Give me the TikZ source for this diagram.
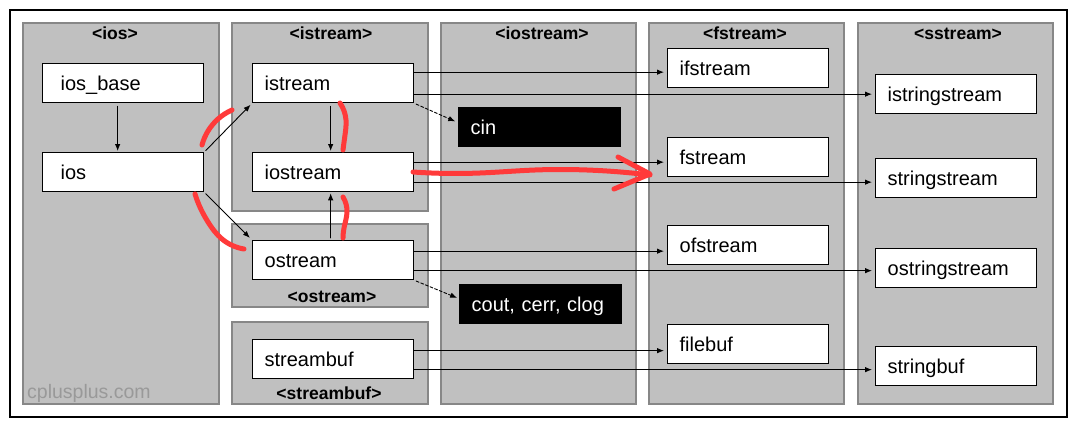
\documentclass[tikz,border=0pt]{standalone}
\usepackage{fontspec}
\setmainfont{Liberation Sans}
\usetikzlibrary{arrows.meta,hobby}

\definecolor{panelfill}{HTML}{C0C0C0}
\definecolor{paneledge}{HTML}{878787}
\definecolor{scribble}{HTML}{FF3A3A}
\definecolor{wmark}{HTML}{999999}

\begin{document}
\begin{tikzpicture}[x=1pt, y=-1pt, line cap=round, line join=round,
	panel/.style={draw=paneledge, fill=panelfill, line width=2.5pt, line join=miter},
	hdr/.style={anchor=base, inner sep=0pt, font=\bfseries\fontsize{17.5}{18}\selectfont},
	cls/.style={draw=black, fill=white, line width=1.3pt, line join=miter, anchor=north west,
		minimum height=39pt, inner xsep=12pt, text width=137pt, align=left,
		text height=15pt, text depth=0pt, font=\fontsize{20}{21}\selectfont},
	iosbox/.style={cls, inner xsep=18pt, text width=125pt},
	obj/.style={cls, fill=black, text=white, text width=138pt},
	arr/.style={-{Latex[length=7pt,width=5.5pt]}, line width=0.9pt},
	redline/.style={draw=scribble, line width=5pt, line cap=round}]
	\fill[white] (0,0) rectangle (1075,425);
	\useasboundingbox (0,0) rectangle (1075,425);
	\draw[line width=1.5pt, line join=miter] (10,10) rectangle (1067,417);

	% header panels
	\draw[panel] (23,23) rectangle (219,404);
	\draw[panel] (232,23) rectangle (428,211);
	\draw[panel] (232,224) rectangle (428,307);
	\draw[panel] (232,322) rectangle (428,404);
	\draw[panel] (441,23) rectangle (636,404);
	\draw[panel] (649,23) rectangle (844,404);
	\draw[panel] (858,23) rectangle (1053,404);

	\node[hdr] (h_ios) at (115,39.5) {<ios>};
	\node[hdr] (h_istream) at (331,39.5) {<istream>};
	\node[hdr] (h_ostream) at (332,302) {<ostream>};
	\node[hdr] (h_streambuf) at (329,399) {<streambuf>};
	\node[hdr] (h_iostream) at (542,39.5) {<iostream>};
	\node[hdr] (h_fstream) at (745,39.5) {<fstream>};
	\node[hdr] (h_sstream) at (958,39.5) {<sstream>};
	\node[anchor=base west, inner sep=0pt, text=wmark, font=\fontsize{19.5}{20}\selectfont] (wm) at (27,398) {cplusplus.com};

	% classes
	\node[iosbox] (ios_base) at (42,63) {ios\_base};
	\node[iosbox] (ios) at (42,152) {ios};
	\node[cls] (istream) at (252,63) {istream};
	\node[cls] (iostream) at (252,152) {iostream};
	\node[cls] (ostream) at (252,240) {ostream};
	\node[cls] (streambuf) at (252,339) {streambuf};
	\node[obj] (cin) at (458,107) {cin};
	\node[obj] (couts) at (459,284) {cout, cerr, clog};
	\node[cls] (ifstream) at (667,48) {ifstream};
	\node[cls] (fstream) at (667,137) {fstream};
	\node[cls] (ofstream) at (667,225) {ofstream};
	\node[cls] (filebuf) at (667,324) {filebuf};
	\node[cls] (istringstream) at (875,74) {istringstream};
	\node[cls] (stringstream) at (875,158) {stringstream};
	\node[cls] (ostringstream) at (875,248) {ostringstream};
	\node[cls] (stringbuf) at (875,346) {stringbuf};

	% inheritance
	\draw[arr, shorten <=3pt, shorten >=1pt] ([xshift=-5.5pt]ios_base.south) -- ([xshift=-5.5pt]ios.north);
	\draw[arr, shorten <=2pt, shorten >=2pt] (ios.north east) -- (istream.south west);
	\draw[arr, shorten <=2pt, shorten >=3pt] (ios.south east) -- (ostream.north west);
	\draw[arr, shorten <=3pt, shorten >=1pt] ([xshift=-2.5pt]istream.south) -- ([xshift=-2.5pt]iostream.north);
	\draw[arr, shorten <=2pt, shorten >=1pt] ([xshift=-2.5pt]ostream.north) -- ([xshift=-2.5pt]iostream.south);
	\draw[arr, densely dashed, shorten <=2pt, shorten >=3pt] (istream.south east) -- ([yshift=4.5pt]cin.west);
	\draw[arr, densely dashed, shorten <=2pt, shorten >=2pt] (ostream.south east) -- ([yshift=5.5pt]couts.west);

	\draw[arr, shorten >=3pt] ([yshift=11pt]istream.east) coordinate (s) -- (s -| ifstream.west);
	\draw[arr, shorten >=3pt] ([yshift=-11pt]istream.east) coordinate (s) -- (s -| istringstream.west);
	\draw[arr, shorten >=3pt] ([yshift=10pt]iostream.east) coordinate (s) -- (s -| fstream.west);
	\draw[arr, shorten >=3pt] ([yshift=-10pt]iostream.east) coordinate (s) -- (s -| stringstream.west);
	\draw[arr, shorten >=3pt] ([yshift=9pt]ostream.east) coordinate (s) -- (s -| ofstream.west);
	\draw[arr, shorten >=3pt] ([yshift=-10.5pt]ostream.east) coordinate (s) -- (s -| ostringstream.west);
	\draw[arr, shorten >=3pt] ([yshift=8.5pt]streambuf.east) coordinate (s) -- (s -| filebuf.west);
	\draw[arr, shorten >=3pt] ([yshift=-10.5pt]streambuf.east) coordinate (s) -- (s -| stringbuf.west);

	% red marks
	\draw[redline, use Hobby shortcut] (202,145) .. (208,131) .. (218,119) .. (232,110);
	\draw[redline, use Hobby shortcut] (195,194) .. (199,205) .. (208,222) .. (222,239) .. (244,249);
	\draw[redline, use Hobby shortcut] (340,103) .. (346,120) .. (345,135) .. (343,150);
	\draw[redline, use Hobby shortcut] (343,197) .. (347,212) .. (344,228) .. (343,238);
	\draw[redline, use Hobby shortcut] (413,172) .. (480,173) .. (535,170) .. (587,170) .. (650,175);
	\draw[redline] (618,157) -- (650,174) -- (614,189);
\end{tikzpicture}
\end{document}
